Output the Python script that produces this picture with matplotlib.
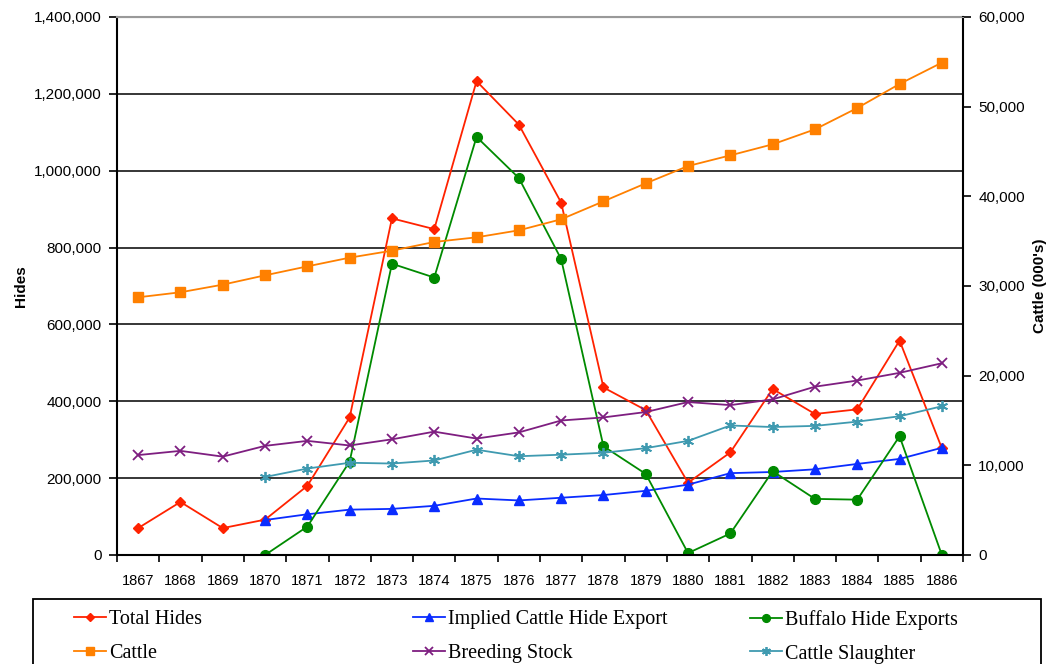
import numpy as np
import matplotlib
matplotlib.use("Agg")
from matplotlib import pyplot as plt
from matplotlib.ticker import FuncFormatter
from matplotlib.patches import Rectangle

years = list(range(1867, 1887))

# hides (left axis)
total_hides = [70000, 138000, 70000, 92000, 180000, 358000, 876000, 848000, 1233000, 1120000,
               917000, 436000, 377000, 188000, 267000, 432000, 367000, 379000, 558000, 278000]
implied_export = [None, None, None, 91000, 106000, 118000, 120000, 128000, 147000, 142000,
                  149000, 156000, 167000, 183000, 213000, 216000, 223000, 237000, 250000, 279000]
buffalo = [None, None, None, 0, 74000, 243000, 758000, 722000, 1088000, 981000,
           770000, 283000, 211000, 5000, 56000, 218000, 146000, 144000, 309000, 0]
breeding = [260000, 271000, 256000, 284000, 297000, 285000, 301000, 321000, 303000, 319000,
            350000, 358000, 372000, 398000, 390000, 405000, 438000, 454000, 474000, 499000]
slaughter = [None, None, None, 203000, 225000, 240000, 238000, 246000, 274000, 257000,
             261000, 266000, 278000, 297000, 337000, 333000, 336000, 347000, 361000, 387000]

# cattle, 000's (right axis)
cattle = [28740, 29300, 30150, 31190, 32190, 33160, 33940, 34910, 35430, 36210,
          37440, 39440, 41450, 43380, 44570, 45800, 47470, 49850, 52530, 54910]

def arr(v):
    return np.array([np.nan if a is None else a for a in v], dtype=float)

x = np.arange(len(years))
asterisk = (6, 2, 0)

fig = plt.figure(figsize=(10.52, 6.64), dpi=100)
ax = fig.add_axes([117/1052, 1 - 555/664, (963-117)/1052, (555-17)/664])
ax2 = ax.twinx()

lw = 1.3
h1, = ax.plot(x, arr(total_hides), color="#FF2200", marker="D", ms=5.5, lw=lw, label="Total Hides")
h2, = ax.plot(x, arr(implied_export), color="#0A2CFF", marker="^", ms=7, lw=lw, label="Implied Cattle Hide Export")
h3, = ax.plot(x, arr(buffalo), color="#008A00", marker="o", ms=7, lw=lw, label="Buffalo Hide Exports")
h5, = ax.plot(x, arr(breeding), color="#7E1E80", marker="x", ms=6.5, mew=1.3, lw=lw, label="Breeding Stock")
h6, = ax.plot(x, arr(slaughter), color="#3F9AB0", marker=asterisk, ms=8, mew=1.3, lw=lw, label="Cattle Slaughter")
h4, = ax2.plot(x, arr(cattle), color="#FF8000", marker="s", ms=7, lw=lw, label="Cattle")

ax.set_xlim(-0.5, len(years) - 0.5)
ax.set_ylim(0, 1400000)
ax2.set_ylim(0, 60000)
ax.set_yticks(np.arange(0, 1400001, 200000))
ax2.set_yticks(np.arange(0, 60001, 10000))
fmt = FuncFormatter(lambda v, p: f"{int(v):,}")
ax.yaxis.set_major_formatter(fmt)
ax2.yaxis.set_major_formatter(fmt)

ax.set_xticks(x)
ax.set_xticklabels([str(y) for y in years])
ax.set_xticks(np.arange(-0.5, len(years)), minor=True)
ax.tick_params(axis="x", which="major", length=0, pad=14)
ax.tick_params(axis="x", which="minor", length=5, width=1.2, direction="out")
ax.tick_params(axis="y", length=6, width=1.2, direction="out", pad=5)
ax2.tick_params(axis="y", length=6, width=1.2, direction="out", pad=5)

for lab in ax.get_yticklabels() + ax2.get_yticklabels():
    lab.set_fontfamily("Liberation Sans")
    lab.set_fontsize(11)
for lab in ax.get_xticklabels():
    lab.set_fontfamily("Liberation Sans")
    lab.set_fontsize(10.5)

ax.grid(axis="y", color="black", lw=1.1)
ax.set_axisbelow(True)
for s in ("left", "bottom"):
    ax.spines[s].set_linewidth(1.5)
ax2.spines["right"].set_linewidth(1.5)
ax2.spines["left"].set_visible(False)
ax2.spines["bottom"].set_visible(False)
ax.spines["right"].set_visible(False)
ax.spines["top"].set_color("#999999")
ax2.spines["top"].set_color("#999999")
ax.spines["top"].set_linewidth(1.5)

ax.set_ylabel("Hides", fontfamily="Liberation Sans", fontweight="bold", fontsize=11, labelpad=4)
ax2.set_ylabel("Cattle (000's)", fontfamily="Liberation Sans", fontweight="bold", fontsize=11, labelpad=6)

# legend box and three legend columns
fig.patches.append(Rectangle((33/1052, -0.02), (1041-33)/1052, 0.02 + 1 - 599/664,
                             transform=fig.transFigure, fill=False, edgecolor="black", lw=1.3))
cols = [((h1, h4), 74), ((h2, h5), 413), ((h3, h6), 750)]
for hs, xpos in cols:
    lg = fig.legend(list(hs), [h.get_label() for h in hs], loc="upper left",
                    bbox_to_anchor=(xpos/1052, 1 - 610/664), frameon=False,
                    prop={"family": "Liberation Serif", "size": 14.5}, handlelength=1.6,
                    handletextpad=0.15, labelspacing=0.72, borderpad=0, borderaxespad=0,
                    markerscale=0.8)

fig.savefig("out.png", dpi=100)
